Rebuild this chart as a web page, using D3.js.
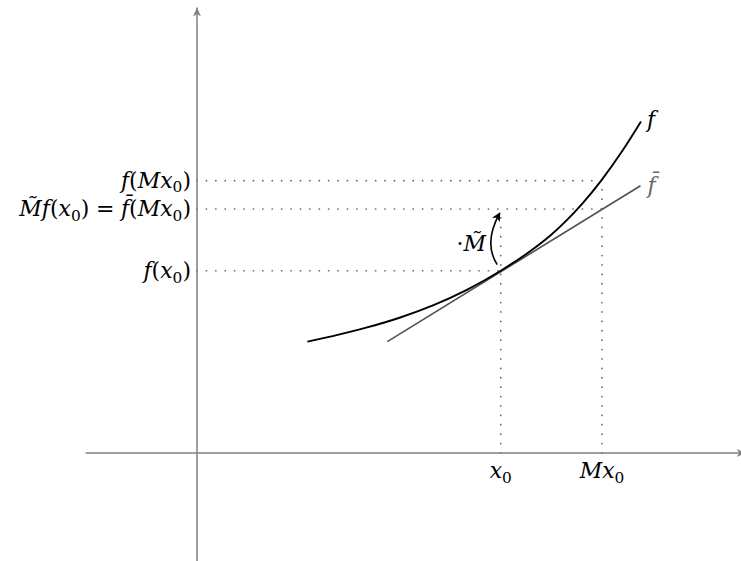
<!DOCTYPE html>
<html>
<head>
<meta charset="utf-8">
<script src="https://cdn.jsdelivr.net/npm/d3@7"></script>
<style>
  body { margin: 0; background: #fff; }
  svg { display: block; }
</style>
</head>
<body>
<script>
const width = 741, height = 561;

// points (figure units)
const curveX = [1.09, 1.34, 1.68, 2.00, 2.33, 2.67, 3.00, 3.32, 3.49, 3.65, 3.81, 3.99, 4.20, 4.385];
const curveY = [1.10, 1.155, 1.24, 1.336, 1.458, 1.614, 1.80, 2.014, 2.148, 2.297, 2.468, 2.688, 2.982, 3.274];

// tangent line f-bar (end points)
const tangentX = [1.88, 4.38];
const tangentY = [1.10, 2.64];

// marked values
const x0 = 3, Mx0 = 4;
const fx0 = 1.80, fMx0 = 2.69, fbarMx0 = 2.41;

// axis extents
const xAxisRange = [-1.1, 5.42];
const yAxisRange = [-1.1, 4.4];

// the small ·M~ arrow (tail, head)
const mArrow = [[2.965, 1.86], [2.99, 2.37]];

// labels: [text, kind]  i = italic, r = roman, s = subscript, e = "=" with wide spaces
const labelFMx0 = [["f", "i"], ["(", "r"], ["Mx", "i"], ["0", "s"], [")", "r"]];
const labelMfx0 = [["M\u0303f", "i"], ["(", "r"], ["x", "i"], ["0", "s"], [")", "r"], ["=", "e"],
                   ["f\u0304", "i"], ["(", "r"], ["Mx", "i"], ["0", "s"], [")", "r"]];
const labelFx0 = [["f", "i"], ["(", "r"], ["x", "i"], ["0", "s"], [")", "r"]];
const labelX0 = [["x", "i"], ["0", "s"]];
const labelMX0 = [["Mx", "i"], ["0", "s"]];
const labelM = [["\u00b7", "r"], ["M\u0303", "i"]];

const svg = d3.select("body").append("svg")
    .attr("width", width)
    .attr("height", height);

svg.append("rect").attr("width", width).attr("height", height).attr("fill", "#fff");

// one unit = 101.25 px on both axes
const x = d3.scaleLinear().domain([0, 4]).range([197, 602]);
const y = d3.scaleLinear().domain([0, 4]).range([453, 48]);

const defs = svg.append("defs");
defs.append("marker")
    .attr("id", "axisHead")
    .attr("markerUnits", "userSpaceOnUse")
    .attr("viewBox", "-10 -5 11 10")
    .attr("markerWidth", 11).attr("markerHeight", 10)
    .attr("refX", 0).attr("refY", 0)
    .attr("orient", "auto")
  .append("path")
    .attr("d", "M0,0 L-9,-4 L-6.5,0 L-9,4 Z")
    .attr("fill", "#808080");

defs.append("marker")
    .attr("id", "blackHead")
    .attr("markerUnits", "userSpaceOnUse")
    .attr("viewBox", "-10 -5 11 10")
    .attr("markerWidth", 11).attr("markerHeight", 10)
    .attr("refX", 0).attr("refY", 0)
    .attr("orient", "auto")
  .append("path")
    .attr("d", "M1,0 L-8,-4.5 L-5.5,0 L-8,4.5 Z")
    .attr("fill", "#000");

// dotted guide lines
const guides = [
    [[0, fMx0], [Mx0, fMx0]],
    [[0, fbarMx0], [Mx0, fbarMx0]],
    [[0, fx0], [x0, fx0]],
    [[x0, 0], [x0, 2.36]],
    [[Mx0, 0], [Mx0, fMx0]]
];
svg.append("g").selectAll("line")
    .data(guides)
    .join("line")
    .attr("x1", d => x(d[0][0])).attr("y1", d => y(d[0][1]))
    .attr("x2", d => x(d[1][0])).attr("y2", d => y(d[1][1]))
    .attr("stroke", "#666")
    .attr("stroke-width", 1.7)
    .attr("stroke-linecap", "round")
    .attr("stroke-dasharray", "0.1 9.3");

// axes
svg.append("line")
    .attr("x1", x(xAxisRange[0])).attr("x2", x(xAxisRange[1]))
    .attr("y1", y(0)).attr("y2", y(0))
    .attr("stroke", "#808080").attr("stroke-width", 1.5)
    .attr("marker-end", "url(#axisHead)");
svg.append("line")
    .attr("x1", x(0)).attr("x2", x(0))
    .attr("y1", y(yAxisRange[0])).attr("y2", y(yAxisRange[1]))
    .attr("stroke", "#808080").attr("stroke-width", 1.5)
    .attr("marker-end", "url(#axisHead)");

// tangent f-bar
svg.append("line")
    .attr("x1", x(tangentX[0])).attr("y1", y(tangentY[0]))
    .attr("x2", x(tangentX[1])).attr("y2", y(tangentY[1]))
    .attr("stroke", "#555").attr("stroke-width", 1.7);

// curve f
const line = d3.line()
    .x(d => x(d[0]))
    .y(d => y(d[1]))
    .curve(d3.curveMonotoneX);
svg.append("path")
    .datum(d3.zip(curveX, curveY))
    .attr("d", line)
    .attr("fill", "none")
    .attr("stroke", "#000")
    .attr("stroke-width", 1.9);

// curved arrow for multiplication by M~
const [t0, t1] = mArrow;
const cx = x(t0[0]) - 14, cy = (y(t0[1]) + y(t1[1])) / 2 + 4;
svg.append("path")
    .attr("d", `M${x(t0[0])},${y(t0[1])} Q${cx},${cy} ${x(t1[0])},${y(t1[1])}`)
    .attr("fill", "none")
    .attr("stroke", "#000")
    .attr("stroke-width", 1.6)
    .attr("marker-end", "url(#blackHead)");

// math-like labels
const fontSize = 22;
function mathLabel(parts, px, py, anchor, color) {
    const t = svg.append("text")
        .attr("x", px).attr("y", py)
        .attr("text-anchor", anchor)
        .attr("font-family", "'DejaVu Serif', serif")
        .attr("font-size", fontSize)
        .attr("fill", color || "#000");
    let down = false, gap = false;
    parts.forEach(([s, k]) => {
        const ts = t.append("tspan").text(s);
        if (k === "i") ts.attr("font-style", "italic");
        if (k === "e" || gap) ts.attr("dx", fontSize * 0.3);
        gap = k === "e";
        if (k === "s") {
            ts.attr("font-size", fontSize * 0.7).attr("dy", fontSize * 0.22);
            down = true;
        } else if (down) {
            ts.attr("dy", -fontSize * 0.22);
            down = false;
        }
    });
    return t;
}

mathLabel(labelFMx0, 191, y(fMx0) + 7, "end");
mathLabel(labelMfx0, 191, y(fbarMx0) + 7, "end");
mathLabel(labelFx0, 191, y(fx0) + 7, "end");
mathLabel(labelX0, x(x0), y(0) + 25, "middle");
mathLabel(labelMX0, x(Mx0), y(0) + 25, "middle");
mathLabel(labelM, 486, 251, "end");
mathLabel([["f", "i"]], x(curveX[curveX.length - 1]) + 6, y(curveY[curveY.length - 1]) + 5, "start");
mathLabel([["f\u0304", "i"]], x(tangentX[1]) + 7, y(tangentY[1]) + 7, "start", "#666");
</script>
</body>
</html>
